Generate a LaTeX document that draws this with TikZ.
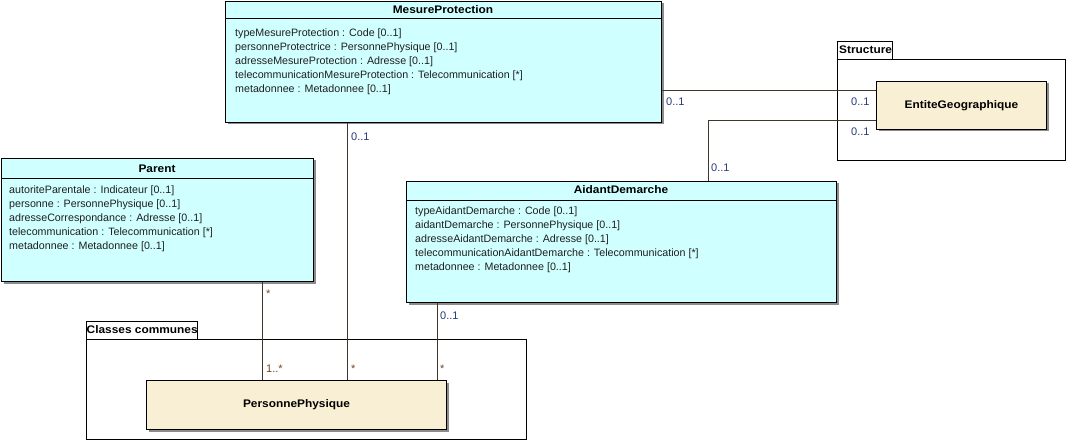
\documentclass[tikz,border=0pt]{standalone}
\usepackage{fontspec}
\setmainfont{Liberation Sans}
\newfontfamily\umlfont{Liberation Sans}
\newfontfamily\umlhead[FakeStretch=1.08]{Liberation Sans}
\usetikzlibrary{shadows}
\definecolor{classfill}{RGB}{208,255,255}
\definecolor{entfill}{RGB}{249,239,212}
\definecolor{linkcol}{RGB}{64,54,44}
\definecolor{multblue}{RGB}{38,58,120}
\definecolor{multbrown}{RGB}{110,70,40}
\tikzset{
  boxshadow/.style={general shadow={shadow xshift=2pt,shadow yshift=-2pt,fill=black!45}},
  classbox/.style={draw=black,line width=1pt,fill=classfill,boxshadow,rectangle,inner sep=0pt,anchor=north west},
  entbox/.style={draw=black,line width=1pt,fill=entfill,boxshadow,rectangle,inner sep=0pt,anchor=north west},
  pkgbox/.style={draw=black,line width=0.9pt,fill=white,rectangle,inner sep=0pt,anchor=north west},
  title/.style={font=\umlhead\fontsize{11}{12}\selectfont\bfseries,inner sep=0pt},
  attrs/.style={font=\umlfont\fontsize{10.7}{13.9}\selectfont,align=left,anchor=north west,inner sep=0pt,text=black!88},
  pkgtitle/.style={font=\umlhead\fontsize{11}{12}\selectfont\bfseries,inner sep=0pt,anchor=west},
  link/.style={draw=linkcol,line width=0.9pt},
  multb/.style={font=\umlfont\fontsize{11}{12}\selectfont,text=multblue,inner sep=0pt,anchor=west},
  multr/.style={font=\umlfont\fontsize{11}{12}\selectfont,text=multbrown,inner sep=0pt,anchor=west},
}
\begin{document}
\begin{tikzpicture}[x=1pt,y=-1pt]
\useasboundingbox (0,0) rectangle (1066,441);

% packages
\node[pkgbox,minimum width=55,minimum height=18] (structab) at (837,41) {};
\node[pkgtitle] at (839,50) {Structure};
\node[pkgbox,minimum width=228,minimum height=101] (struct) at (837,59) {};
\node[pkgbox,minimum width=111,minimum height=18] (commtab) at (86,321) {};
\node[pkgtitle] at (86.5,330) {Classes communes};
\node[pkgbox,minimum width=440,minimum height=100] (comm) at (86,339) {};

% class MesureProtection
\node[classbox,minimum width=436,minimum height=121] (mp) at (225,1) {};
\draw[line width=1pt] (225,19) -- (661,19);
\node[title] (mpt) at (443,10) {MesureProtection};
\node[attrs] (mpa) at (235,28.5) {typeMesureProtection : Code [0..1]\\
personneProtectrice : PersonnePhysique [0..1]\\
adresseMesureProtection : Adresse [0..1]\\
telecommunicationMesureProtection : Telecommunication [*]\\
metadonnee : Metadonnee [0..1]};

% class Parent
\node[classbox,minimum width=312,minimum height=123] (par) at (1,158) {};
\draw[line width=1pt] (1,179) -- (313,179);
\node[title] (part) at (157,169) {Parent};
\node[attrs] (para) at (9,185.5) {autoriteParentale : Indicateur [0..1]\\
personne : PersonnePhysique [0..1]\\
adresseCorrespondance : Adresse [0..1]\\
telecommunication : Telecommunication [*]\\
metadonnee : Metadonnee [0..1]};

% class AidantDemarche
\node[classbox,minimum width=430,minimum height=121] (ad) at (406,181) {};
\draw[line width=1pt] (406,200) -- (836,200);
\node[title] (adt) at (621,190) {AidantDemarche};
\node[attrs] (ada) at (415,206.5) {typeAidantDemarche : Code [0..1]\\
aidantDemarche : PersonnePhysique [0..1]\\
adresseAidantDemarche : Adresse [0..1]\\
telecommunicationAidantDemarche : Telecommunication [*]\\
metadonnee : Metadonnee [0..1]};

% external classes
\node[entbox,minimum width=170,minimum height=48] (eg) at (876,81) {};
\node[title] (egt) at (eg.center) {EntiteGeographique};
\node[entbox,minimum width=300,minimum height=49] (pp) at (146,380) {};
\node[title] (ppt) at (pp.center) {PersonnePhysique};

% connectors
\coordinate (h1) at (0,90);
\coordinate (h2) at (0,120);
\coordinate (v1) at (708,0);
\coordinate (v2) at (262,0);
\coordinate (v3) at (347,0);
\coordinate (v4) at (437,0);
\draw[link] (mp.east |- h1) -- (eg.west |- h1);
\draw[link] (ad.north -| v1) -- (v1 |- h2) -- (eg.west |- h2);
\draw[link] (par.south -| v2) -- (pp.north -| v2);
\draw[link] (mp.south -| v3) -- (pp.north -| v3);
\draw[link] (ad.south -| v4) -- (pp.north -| v4);

% multiplicities
\node[multb] at (666,102) {0..1};
\node[multb] at (851,102) {0..1};
\node[multb] at (851,132) {0..1};
\node[multb] at (711,168) {0..1};
\node[multb] at (351,137) {0..1};
\node[multb] at (440,316) {0..1};
\node[multr] at (266,294) {*};
\node[multr] at (266,369) {1..*};
\node[multr] at (351,369) {*};
\node[multr] at (440,369) {*};
\end{tikzpicture}
\end{document}
